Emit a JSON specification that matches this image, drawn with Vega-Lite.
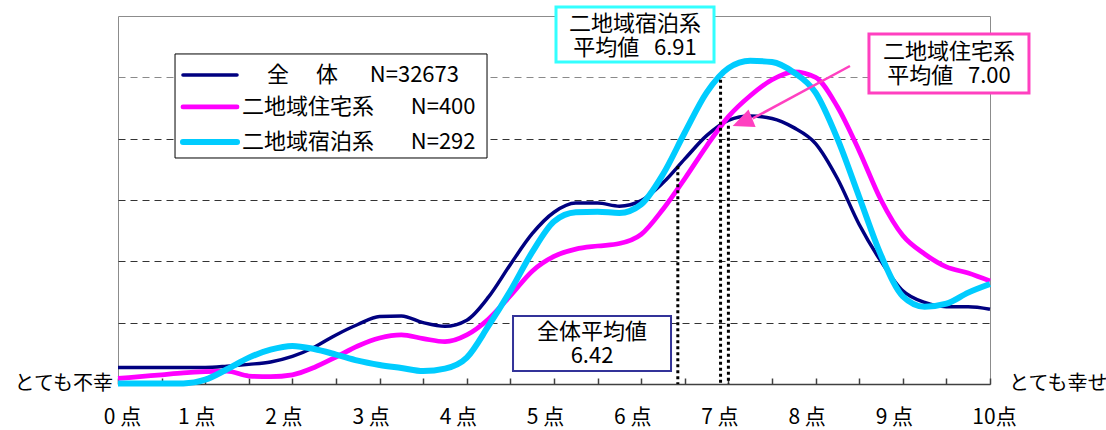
{
  "$schema": "https://vega.github.io/schema/vega-lite/v6.json",
  "width": 872,
  "height": 368,
  "autosize": {"type": "none"},
  "padding": {"left": 118, "top": 16, "right": 116, "bottom": 46},
  "background": "white",
  "config": {
    "view": {"stroke": "#8c8c8c", "strokeWidth": 1},
    "font": "Noto Sans CJK JP"
  },
  "datasets": {
    "curves": [
      {"p": 0, "全体": 0.27, "二地域住宅系": 0.09, "二地域宿泊系": 0.01},
      {"p": 0.25, "全体": 0.27, "二地域住宅系": 0.12, "二地域宿泊系": 0.01},
      {"p": 0.5, "全体": 0.27, "二地域住宅系": 0.15, "二地域宿泊系": 0.01},
      {"p": 0.75, "全体": 0.27, "二地域住宅系": 0.18, "二地域宿泊系": 0.01},
      {"p": 1, "全体": 0.27, "二地域住宅系": 0.20, "二地域宿泊系": 0.07},
      {"p": 1.25, "全体": 0.29, "二地域住宅系": 0.21, "二地域宿泊系": 0.24},
      {"p": 1.5, "全体": 0.32, "二地域住宅系": 0.13, "二地域宿泊系": 0.43},
      {"p": 1.75, "全体": 0.36, "二地域住宅系": 0.12, "二地域宿泊系": 0.56},
      {"p": 2, "全体": 0.45, "二地域住宅系": 0.15, "二地域宿泊系": 0.62},
      {"p": 2.25, "全体": 0.60, "二地域住宅系": 0.27, "二地域宿泊系": 0.57},
      {"p": 2.5, "全体": 0.80, "二地域住宅系": 0.44, "二地域宿泊系": 0.48},
      {"p": 2.75, "全体": 0.97, "二地域住宅系": 0.62, "二地域宿泊系": 0.38},
      {"p": 3, "全体": 1.10, "二地域住宅系": 0.75, "二地域宿泊系": 0.31},
      {"p": 3.25, "全体": 1.11, "二地域住宅系": 0.80, "二地域宿泊系": 0.26},
      {"p": 3.5, "全体": 1.00, "二地域住宅系": 0.74, "二地域宿泊系": 0.21},
      {"p": 3.75, "全体": 0.94, "二地域住宅系": 0.69, "二地域宿泊系": 0.25},
      {"p": 4, "全体": 1.04, "二地域住宅系": 0.80, "二地域宿泊系": 0.43},
      {"p": 4.25, "全体": 1.42, "二地域住宅系": 1.06, "二地域宿泊系": 0.95},
      {"p": 4.5, "全体": 1.95, "二地域住宅系": 1.44, "二地域宿泊系": 1.52},
      {"p": 4.75, "全体": 2.45, "二地域住宅系": 1.84, "二地域宿泊系": 2.15},
      {"p": 5, "全体": 2.80, "二地域住宅系": 2.08, "二地域宿泊系": 2.65},
      {"p": 5.25, "全体": 2.95, "二地域住宅系": 2.20, "二地域宿泊系": 2.80},
      {"p": 5.5, "全体": 2.95, "二地域住宅系": 2.25, "二地域宿泊系": 2.81},
      {"p": 5.75, "全体": 2.90, "二地域住宅系": 2.29, "二地域宿泊系": 2.79},
      {"p": 6, "全体": 2.99, "二地域住宅系": 2.44, "二地域宿泊系": 2.93},
      {"p": 6.25, "全体": 3.28, "二地域住宅系": 2.85, "二地域宿泊系": 3.42},
      {"p": 6.5, "全体": 3.67, "二地域住宅系": 3.35, "二地域宿泊系": 4.10},
      {"p": 6.75, "全体": 4.05, "二地域住宅系": 3.88, "二地域宿泊系": 4.75},
      {"p": 7, "全体": 4.30, "二地域住宅系": 4.36, "二地域宿泊系": 5.15},
      {"p": 7.25, "全体": 4.37, "二地域住宅系": 4.70, "二地域宿泊系": 5.27},
      {"p": 7.5, "全体": 4.33, "二地域住宅系": 4.96, "二地域宿泊系": 5.25},
      {"p": 7.75, "全体": 4.18, "二地域住宅系": 5.09, "二地域宿泊系": 5.08},
      {"p": 8, "全体": 3.92, "二地域住宅系": 5.00, "二地域宿泊系": 4.75},
      {"p": 8.25, "全体": 3.35, "二地域住宅系": 4.52, "二地域宿泊系": 4.00},
      {"p": 8.5, "全体": 2.60, "二地域住宅系": 3.80, "二地域宿泊系": 3.05},
      {"p": 8.75, "全体": 2.00, "二地域住宅系": 3.00, "二地域宿泊系": 2.10},
      {"p": 9, "全体": 1.52, "二地域住宅系": 2.42, "二地域宿泊系": 1.43},
      {"p": 9.25, "全体": 1.33, "二地域住宅系": 2.12, "二地域宿泊系": 1.26},
      {"p": 9.5, "全体": 1.26, "二地域住宅系": 1.91, "二地域宿泊系": 1.31},
      {"p": 9.75, "全体": 1.26, "二地域住宅系": 1.81, "二地域宿泊系": 1.49},
      {"p": 10, "全体": 1.22, "二地域住宅系": 1.68, "二地域宿泊系": 1.63}
    ],
    "means": [
      {"series": "全体", "n": 32673, "mean": 6.42, "top": 3.55},
      {"series": "二地域住宅系", "n": 400, "mean": 7.00, "top": 4.21},
      {"series": "二地域宿泊系", "n": 292, "mean": 6.91, "top": 4.96}
    ]
  },
  "layer": [
    {
      "data": {"name": "curves"},
      "transform": [
        {"fold": ["全体", "二地域住宅系", "二地域宿泊系"], "as": ["series", "v"]}
      ],
      "mark": {"type": "line", "interpolate": "monotone", "strokeJoin": "round"},
      "encoding": {
        "x": {
          "field": "p",
          "type": "quantitative",
          "scale": {"domain": [0, 10], "nice": false, "zero": false},
          "axis": {
            "title": null,
            "values": [0, 0.5, 1, 1.5, 2, 2.5, 3, 3.5, 4, 4.5, 5, 5.5, 6, 6.5, 7, 7.5, 8, 8.5, 9, 9.5, 10],
            "grid": false,
            "domainColor": "#404040",
            "domainWidth": 1.5,
            "tickColor": "#404040",
            "tickWidth": 1.5,
            "tickSize": -6,
            "labelExpr": "datum.value % 1 == 0 ? (datum.value == 10 ? '10点' : datum.value + ' 点') : ''",
            "labelFont": "Noto Sans CJK JP",
            "labelFontSize": 21,
            "labelColor": "black",
            "labelPadding": 28,
            "labelBaseline": "top",
            "labelOffset": {"condition": {"test": "datum.value == 0 || datum.value == 10", "value": 4}, "value": -9},
            "labelFlush": false,
            "labelOverlap": false,
            "labelBound": false
          }
        },
        "y": {
          "field": "v",
          "type": "quantitative",
          "scale": {"domain": [0, 6], "nice": false},
          "axis": {
            "title": null,
            "labels": false,
            "ticks": false,
            "domain": false,
            "grid": true,
            "values": [1, 2, 3, 4, 5],
            "gridDash": [7, 5],
            "gridWidth": 1,
            "gridColor": {"condition": {"test": "datum.value == 5", "value": "#8a8a8a"}, "value": "#333333"}
          }
        },
        "color": {
          "field": "series",
          "type": "nominal",
          "scale": {"domain": ["全体", "二地域住宅系", "二地域宿泊系"], "range": ["#000080", "#FF00FF", "#00CCFF"]},
          "legend": null
        },
        "strokeWidth": {
          "field": "series",
          "type": "ordinal",
          "scale": {"domain": ["全体", "二地域住宅系", "二地域宿泊系"], "range": [3.5, 6, 6]},
          "legend": null
        }
      }
    },
    {
      "data": {"name": "means"},
      "mark": {"type": "rule", "color": "black", "strokeWidth": 3, "strokeDash": [3, 3]},
      "encoding": {
        "x": {"field": "mean", "type": "quantitative"},
        "y": {"field": "top", "type": "quantitative"},
        "y2": {"datum": 0}
      }
    },
    {
      "data": {"name": "means"},
      "transform": [{"filter": "datum.series == '全体'"}],
      "mark": {"type": "rect", "fill": "white", "stroke": "#333399", "strokeWidth": 2},
      "encoding": {"x": {"datum": 4.53}, "x2": {"datum": 6.342}, "y": {"datum": 1.109}, "y2": {"datum": 0.212}}
    },
    {
      "data": {"name": "means"},
      "transform": [
        {"filter": "datum.series == '全体'"},
        {"calculate": "['全体平均値', format(datum.mean, '.2f')]", "as": "label"}
      ],
      "mark": {"type": "text", "fontSize": 22, "lineHeight": 24, "align": "center", "baseline": "middle", "color": "black"},
      "encoding": {"x": {"datum": 5.436}, "y": {"datum": 0.855}, "text": {"field": "label"}}
    },
    {
      "data": {"name": "means"},
      "transform": [{"filter": "datum.series == '二地域宿泊系'"}],
      "mark": {"type": "rect", "fill": "white", "stroke": "#33FFFF", "strokeWidth": 3},
      "encoding": {"x": {"datum": 5.023}, "x2": {"datum": 6.835}, "y": {"datum": 6.147}, "y2": {"datum": 5.251}}
    },
    {
      "data": {"name": "means"},
      "transform": [
        {"filter": "datum.series == '二地域宿泊系'"},
        {"calculate": "['二地域宿泊系', '平均値\u00a0\u00a0\u00a0' + format(datum.mean, '.2f')]", "as": "label"}
      ],
      "mark": {"type": "text", "fontSize": 22, "lineHeight": 24, "align": "center", "baseline": "middle", "color": "black"},
      "encoding": {"x": {"datum": 5.929}, "y": {"datum": 5.875}, "text": {"field": "label"}}
    },
    {
      "data": {"name": "means"},
      "transform": [{"filter": "datum.series == '二地域住宅系'"}],
      "mark": {"type": "rect", "fill": "white", "stroke": "#FF40C0", "strokeWidth": 3},
      "encoding": {"x": {"datum": 8.612}, "x2": {"datum": 10.447}, "y": {"datum": 5.707}, "y2": {"datum": 4.745}}
    },
    {
      "data": {"name": "means"},
      "transform": [
        {"filter": "datum.series == '二地域住宅系'"},
        {"calculate": "['二地域住宅系', '平均値\u00a0\u00a0\u00a0' + format(datum.mean, '.2f')]", "as": "label"}
      ],
      "mark": {"type": "text", "fontSize": 22, "lineHeight": 24, "align": "center", "baseline": "middle", "color": "black"},
      "encoding": {"x": {"datum": 9.53}, "y": {"datum": 5.42}, "text": {"field": "label"}}
    },
    {
      "data": {"name": "means"},
      "transform": [{"filter": "datum.series == '二地域住宅系'"}],
      "mark": {"type": "rule", "color": "#FF40C0", "strokeWidth": 2.5},
      "encoding": {"x": {"datum": 8.394}, "y": {"datum": 5.185}, "x2": {"datum": 7.28}, "y2": {"datum": 4.33}}
    },
    {
      "data": {"name": "means"},
      "transform": [{"filter": "datum.series == '二地域住宅系'"}],
      "mark": {"type": "point", "shape": "M0,-1L0.9,1L-0.9,1Z", "filled": true, "color": "#FF40C0", "opacity": 1, "size": 440, "angle": 248},
      "encoding": {"x": {"datum": 7.16}, "y": {"datum": 4.27}}
    },
    {
      "data": {"values": [{"label": "とても不幸"}]},
      "mark": {"type": "text", "fontSize": 20, "align": "right", "baseline": "middle", "dx": -5, "color": "black"},
      "encoding": {"x": {"datum": 0}, "y": {"datum": 0}, "text": {"field": "label"}}
    },
    {
      "data": {"values": [{"label": "とても幸せ"}]},
      "mark": {"type": "text", "fontSize": 20, "align": "left", "baseline": "middle", "dx": 19, "color": "black"},
      "encoding": {"x": {"datum": 10}, "y": {"datum": 0}, "text": {"field": "label"}}
    },
    {
      "data": {"name": "means"},
      "transform": [{"filter": "datum.series == '全体'"}],
      "mark": {"type": "rect", "fill": "white", "stroke": "#000000", "strokeWidth": 1},
      "encoding": {"x": {"datum": 0.654}, "x2": {"datum": 4.232}, "y": {"datum": 5.381}, "y2": {"datum": 3.685}}
    },
    {
      "data": {"name": "means"},
      "transform": [
        {"filter": "datum.series == '全体'"},
        {"calculate": "'全\u3000\u00a0体\u3000\u00a0\u00a0N=' + datum.n", "as": "label"}
      ],
      "encoding": {"y": {"datum": 5.038}},
      "layer": [
        {
          "mark": {"type": "rule", "strokeCap": "round"},
          "encoding": {
            "x": {"datum": 0.745},
            "x2": {"datum": 1.365},
            "color": {"field": "series", "type": "nominal", "legend": null},
            "strokeWidth": {"field": "series", "type": "ordinal", "legend": null}
          }
        },
        {
          "mark": {"type": "text", "fontSize": 22, "align": "left", "baseline": "middle", "color": "black"},
          "encoding": {"x": {"datum": 1.709}, "text": {"field": "label"}}
        }
      ]
    },
    {
      "data": {"name": "means"},
      "transform": [
        {"filter": "datum.series == '二地域住宅系'"},
        {"calculate": "datum.series + '\u3000\u00a0\u00a0\u00a0N=' + datum.n", "as": "label"}
      ],
      "encoding": {"y": {"datum": 4.517}},
      "layer": [
        {
          "mark": {"type": "rule", "strokeCap": "round"},
          "encoding": {
            "x": {"datum": 0.745},
            "x2": {"datum": 1.365},
            "color": {"field": "series", "type": "nominal", "legend": null},
            "strokeWidth": {"field": "series", "type": "ordinal", "legend": null}
          }
        },
        {
          "mark": {"type": "text", "fontSize": 22, "align": "left", "baseline": "middle", "color": "black"},
          "encoding": {"x": {"datum": 1.422}, "text": {"field": "label"}}
        }
      ]
    },
    {
      "data": {"name": "means"},
      "transform": [
        {"filter": "datum.series == '二地域宿泊系'"},
        {"calculate": "datum.series + '\u3000\u00a0\u00a0\u00a0N=' + datum.n", "as": "label"}
      ],
      "encoding": {"y": {"datum": 3.946}},
      "layer": [
        {
          "mark": {"type": "rule", "strokeCap": "round"},
          "encoding": {
            "x": {"datum": 0.745},
            "x2": {"datum": 1.365},
            "color": {"field": "series", "type": "nominal", "legend": null},
            "strokeWidth": {"field": "series", "type": "ordinal", "legend": null}
          }
        },
        {
          "mark": {"type": "text", "fontSize": 22, "align": "left", "baseline": "middle", "color": "black"},
          "encoding": {"x": {"datum": 1.422}, "text": {"field": "label"}}
        }
      ]
    }
  ]
}
